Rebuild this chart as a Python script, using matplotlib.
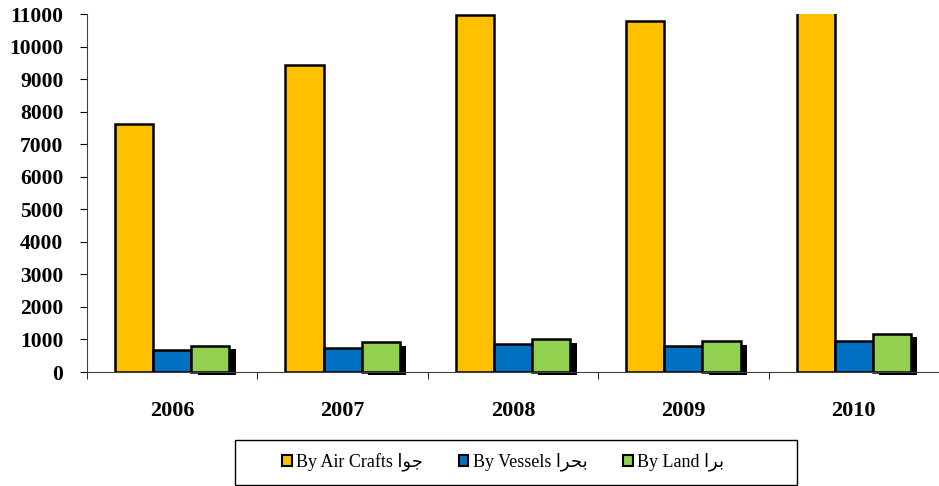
import matplotlib
matplotlib.use("Agg")
import matplotlib.pyplot as plt
import matplotlib.patheffects as pe
from matplotlib.patches import Patch, Rectangle
import numpy as np

years = ["2006", "2007", "2008", "2009", "2010"]
air = [7620, 9430, 10970, 10780, 11300]
vessels = [670, 740, 860, 800, 950]
land = [800, 920, 1010, 950, 1170]

ar_air = "\uFE8D\uFEEE\uFE9F"      # جوا (shaped, visual order)
ar_sea = "\uFE8D\uFEAE\uFEA4\uFE91"  # بحرا
ar_land = "\uFE8D\uFEAE\uFE91"     # برا
labels = ["By Air Crafts " + ar_air, "By Vessels " + ar_sea, "By Land " + ar_land]
colors = ["#FFC000", "#0070C0", "#92D050"]

fig = plt.figure(figsize=(9.39, 4.86), dpi=100)
ax = fig.add_axes([87/939, 1-372/486, 1-87/939, (372-14)/486])

x = np.arange(len(years))
w = 0.224
shadow = [pe.SimplePatchShadow(offset=(4.5, -2.5), shadow_rgbFace="black", alpha=1), pe.Normal()]
for i, (vals, col) in enumerate(zip([air, vessels, land], colors)):
    bars = ax.bar(x + (i-1)*w, vals, width=w, color=col, edgecolor="black",
                  linewidth=1.8, zorder=2)
    if i == 2:
        for b in bars:
            b.set_path_effects(shadow)
            b.set_clip_on(False)

ax.set_xlim(-0.5, len(years)-0.5)
ax.set_ylim(0, 11000)
ax.set_yticks(range(0, 11001, 1000))
ax.set_xticks(x)
ax.set_xticklabels(years)
ax.set_xticks(np.arange(-0.5, len(years)), minor=True)
ax.tick_params(axis="x", which="major", length=0, pad=21)
ax.tick_params(axis="x", which="minor", length=5, direction="out", color="black")
ax.tick_params(axis="y", length=5, direction="out", pad=12)
for lab in ax.get_xticklabels():
    lab.set_fontfamily("Liberation Serif")
    lab.set_fontweight("bold")
    lab.set_fontsize(16)
for lab in ax.get_yticklabels():
    lab.set_fontfamily("Liberation Serif")
    lab.set_fontweight("bold")
    lab.set_fontsize(15.5)
for s in ["top", "right"]:
    ax.spines[s].set_visible(False)
ax.spines["left"].set_color("#404040")
ax.spines["bottom"].set_color("#404040")

# legend frame
fig.patches.append(Rectangle((235/939, 1-485/486), 562/939, 45/486,
                             transform=fig.transFigure, facecolor="none",
                             edgecolor="black", linewidth=1.0))
handles = [Patch(facecolor=c, edgecolor="black", linewidth=1.5) for c in colors]
leg = fig.legend(handles, labels, loc="center left", ncol=3,
                 bbox_to_anchor=(282/939, 1-462/486),
                 prop={"family": ["Liberation Serif", "DejaVu Sans"], "size": 13},
                 frameon=False, handlelength=0.55, handleheight=0.55,
                 handletextpad=0.25, columnspacing=1.95,
                 borderaxespad=0, borderpad=0)
fig.savefig("out.png", dpi=100)
